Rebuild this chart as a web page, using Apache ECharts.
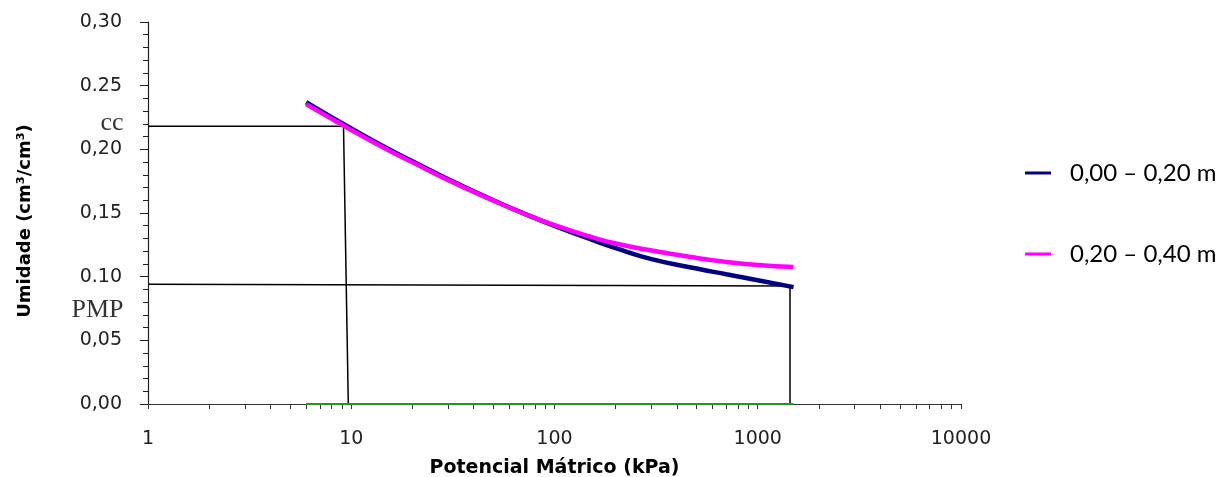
<!DOCTYPE html>
<html><head><meta charset="utf-8">
<script src="https://cdn.jsdelivr.net/npm/echarts@6/dist/echarts.min.js"></script>
<style>html,body{margin:0;padding:0;background:#fff}#c{width:1232px;height:477px}</style>
</head><body><div id="c"></div>
<script>
// ---- data ----
const potencial = [6, 8, 10, 15, 20, 30, 50, 70, 100, 150, 200, 300, 500, 700, 1000, 1500];
const umidade0020 = [0.2370, 0.2252, 0.2164, 0.2009, 0.1906, 0.1764, 0.1600, 0.1499, 0.1399, 0.1294, 0.1224, 0.1138, 0.1064, 0.1019, 0.0972, 0.0918];
const umidade2040 = [0.2355, 0.2239, 0.2152, 0.1999, 0.1898, 0.1758, 0.1597, 0.1498, 0.1404, 0.1314, 0.1260, 0.1205, 0.1147, 0.1116, 0.1092, 0.1075];
const seriesNames = ['0,00 – 0,20 m', '0,20 – 0,40 m'];

// reference lines: field capacity (cc) and wilting point (PMP)
const ccLineX = [1, 9.16];
const ccLineY = [0.2182, 0.2182];
const ccDropX = [9.16, 9.67];
const ccDropY = [0.2182, 0];
const pmpLineX = [1, 1441];
const pmpLineY = [0.0940, 0.0926];
const pmpDropX = [1441, 1441];
const pmpDropY = [0.0926, 0];
const baseX = [6, 1500];
const baseY = [0, 0];

// annotation texts
const annotLabels = ['cc', 'PMP'];
const annotX = [1, 1];
const annotY = [0.2209, 0.0740];

// ticks
const yTickLabels = ['0,00', '0,05', '0.10', '0,15', '0,20', '0.25', '0,30'];
const xTickValues = [1, 10, 100, 1000, 10000];
const xTickLabels = ['1', '10', '100', '1000', '10000'];

const zip = (xs, ys) => xs.map((x, i) => [x, ys[i]]);
const xTickAll = [];
for (let d = 0; d < xTickValues.length - 1; d++) {
  for (let k = 1; k <= 9; k++) xTickAll.push(xTickValues[d] * k);
}
xTickAll.push(xTickValues[xTickValues.length - 1]);

const blackLine = (xs, ys) => ({
  type: 'line', data: zip(xs, ys), symbol: 'none', clip: false, silent: true,
  lineStyle: { color: '#000', width: 1.5 }, z: 2
});

const chart = echarts.init(document.getElementById('c'), null, { renderer: 'canvas' });
chart.setOption({
  animation: false,
  backgroundColor: '#fff',
  grid: { left: 148, right: 271, top: 22, bottom: 73, containLabel: false, outerBoundsMode: 'none' },
  legend: {
    orient: 'vertical', left: 1020, top: 153,
    itemWidth: 26, itemHeight: 3, itemGap: 51, icon: 'rect',
    data: seriesNames,
    textStyle: { fontFamily: 'Lato', fontSize: 24, color: '#000', lineHeight: 30, padding: [0, 0, 0, 14] }
  },
  xAxis: {
    type: 'log', logBase: 10, min: 1, max: 10000,
    axisLine: { show: true, lineStyle: { color: '#333', width: 1.2 } },
    axisTick: { show: true, length: 5, customValues: xTickAll, lineStyle: { color: '#333' } },
    minorTick: { show: false },
    splitLine: { show: false },
    axisLabel: {
      customValues: xTickValues, margin: 26,
      fontFamily: 'DejaVu Sans', fontSize: 19, color: '#222',
      formatter: v => xTickLabels[Math.round(Math.log10(v))]
    },
    name: 'Potencial Mátrico (kPa)', nameLocation: 'middle', nameGap: 55,
    nameTextStyle: { fontFamily: 'DejaVu Sans', fontWeight: 'bold', fontSize: 19, color: '#000' }
  },
  yAxis: {
    type: 'value', min: 0, max: 0.3, interval: 0.05,
    axisLine: { show: true, lineStyle: { color: '#222', width: 1.2 } },
    axisTick: { show: true, length: 8, lineStyle: { color: '#222' } },
    minorTick: { show: true, splitNumber: 5, length: 5, lineStyle: { color: '#222' } },
    splitLine: { show: false },
    axisLabel: {
      margin: 26, fontFamily: 'DejaVu Sans', fontSize: 19, color: '#222',
      formatter: v => yTickLabels[Math.round(v / 0.05)]
    },
    name: 'Umidade (cm³/cm³)', nameLocation: 'middle', nameGap: 114,
    nameTextStyle: { fontFamily: 'DejaVu Sans', fontWeight: 'bold', fontSize: 18, color: '#000', padding: [0, 16, 0, 0] }
  },
  series: [
    blackLine(ccLineX, ccLineY),
    blackLine(ccDropX, ccDropY),
    blackLine(pmpLineX, pmpLineY),
    blackLine(pmpDropX, pmpDropY),
    {
      type: 'line', data: zip(baseX, baseY), symbol: 'none', clip: false, silent: true,
      lineStyle: { color: '#1f9a1f', width: 2 }, z: 3
    },
    {
      name: seriesNames[0], type: 'line', data: zip(potencial, umidade0020),
      smooth: true, symbol: 'none', color: '#000080',
      lineStyle: { color: '#000080', width: 4.5 }, z: 4
    },
    {
      name: seriesNames[1], type: 'line', data: zip(potencial, umidade2040),
      smooth: true, symbol: 'none', color: '#ff00ff',
      lineStyle: { color: '#ff00ff', width: 4.5 }, z: 5
    },
    {
      type: 'scatter', data: zip(annotX, annotY), symbolSize: 1, clip: false, silent: true,
      itemStyle: { color: 'rgba(0,0,0,0)' },
      label: {
        show: true, position: 'left', distance: 24,
        fontFamily: 'Liberation Serif', fontSize: 26, color: '#000',
        formatter: p => annotLabels[p.dataIndex]
      }, z: 6
    }
  ]
});
</script></body></html>
